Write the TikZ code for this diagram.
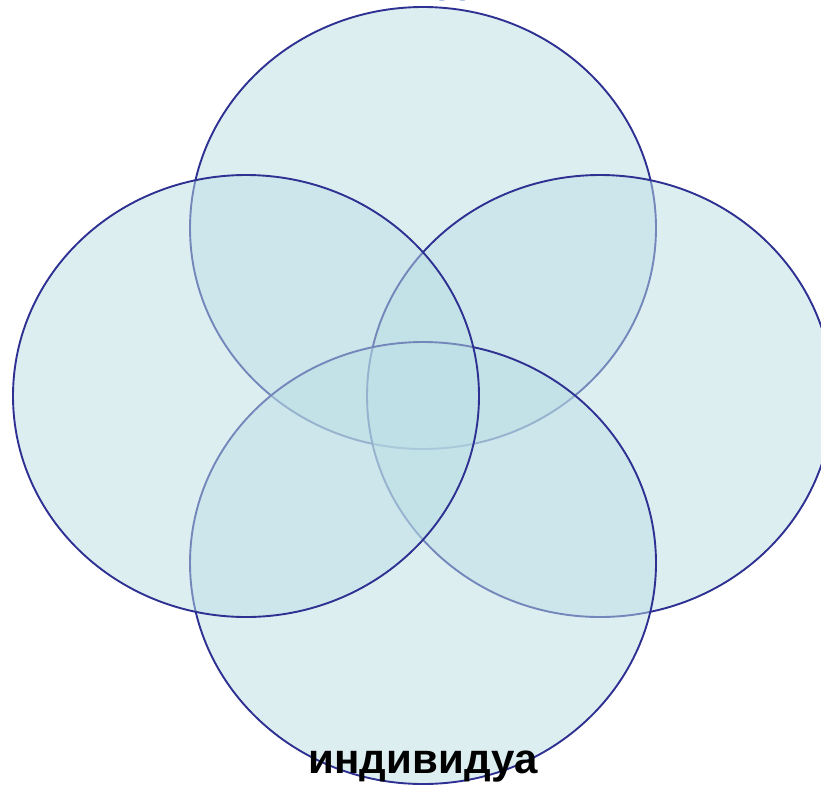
\documentclass[tikz,border=0pt]{standalone}
\usepackage{fontspec}
\setmainfont{Liberation Sans}
\definecolor{edgec}{RGB}{46,49,146}
\definecolor{fillc}{RGB}{187,222,228}
\definecolor{topc}{RGB}{60,100,200}
\begin{document}
\begin{tikzpicture}[x=1pt,y=-1pt,
  circ/.style={draw=edgec,line width=1.9pt,fill=fillc,fill opacity=0.5,draw opacity=1},
  lbl/.style={font=\bfseries\fontsize{42}{48}\selectfont,anchor=base,inner sep=0pt}]
\useasboundingbox (0,0) rectangle (821,785);
\path[circ] (423,228) ellipse [x radius=233, y radius=221];
\path[circ] (600,396) ellipse [x radius=233, y radius=221];
\path[circ] (423,563) ellipse [x radius=233, y radius=221];
\path[circ] (246,396) ellipse [x radius=233, y radius=221];
\node[lbl,text=topc] (top) at (453,-8) {д};
\node[lbl] (bottom) at (423,773) {индивидуа};
\end{tikzpicture}
\end{document}
